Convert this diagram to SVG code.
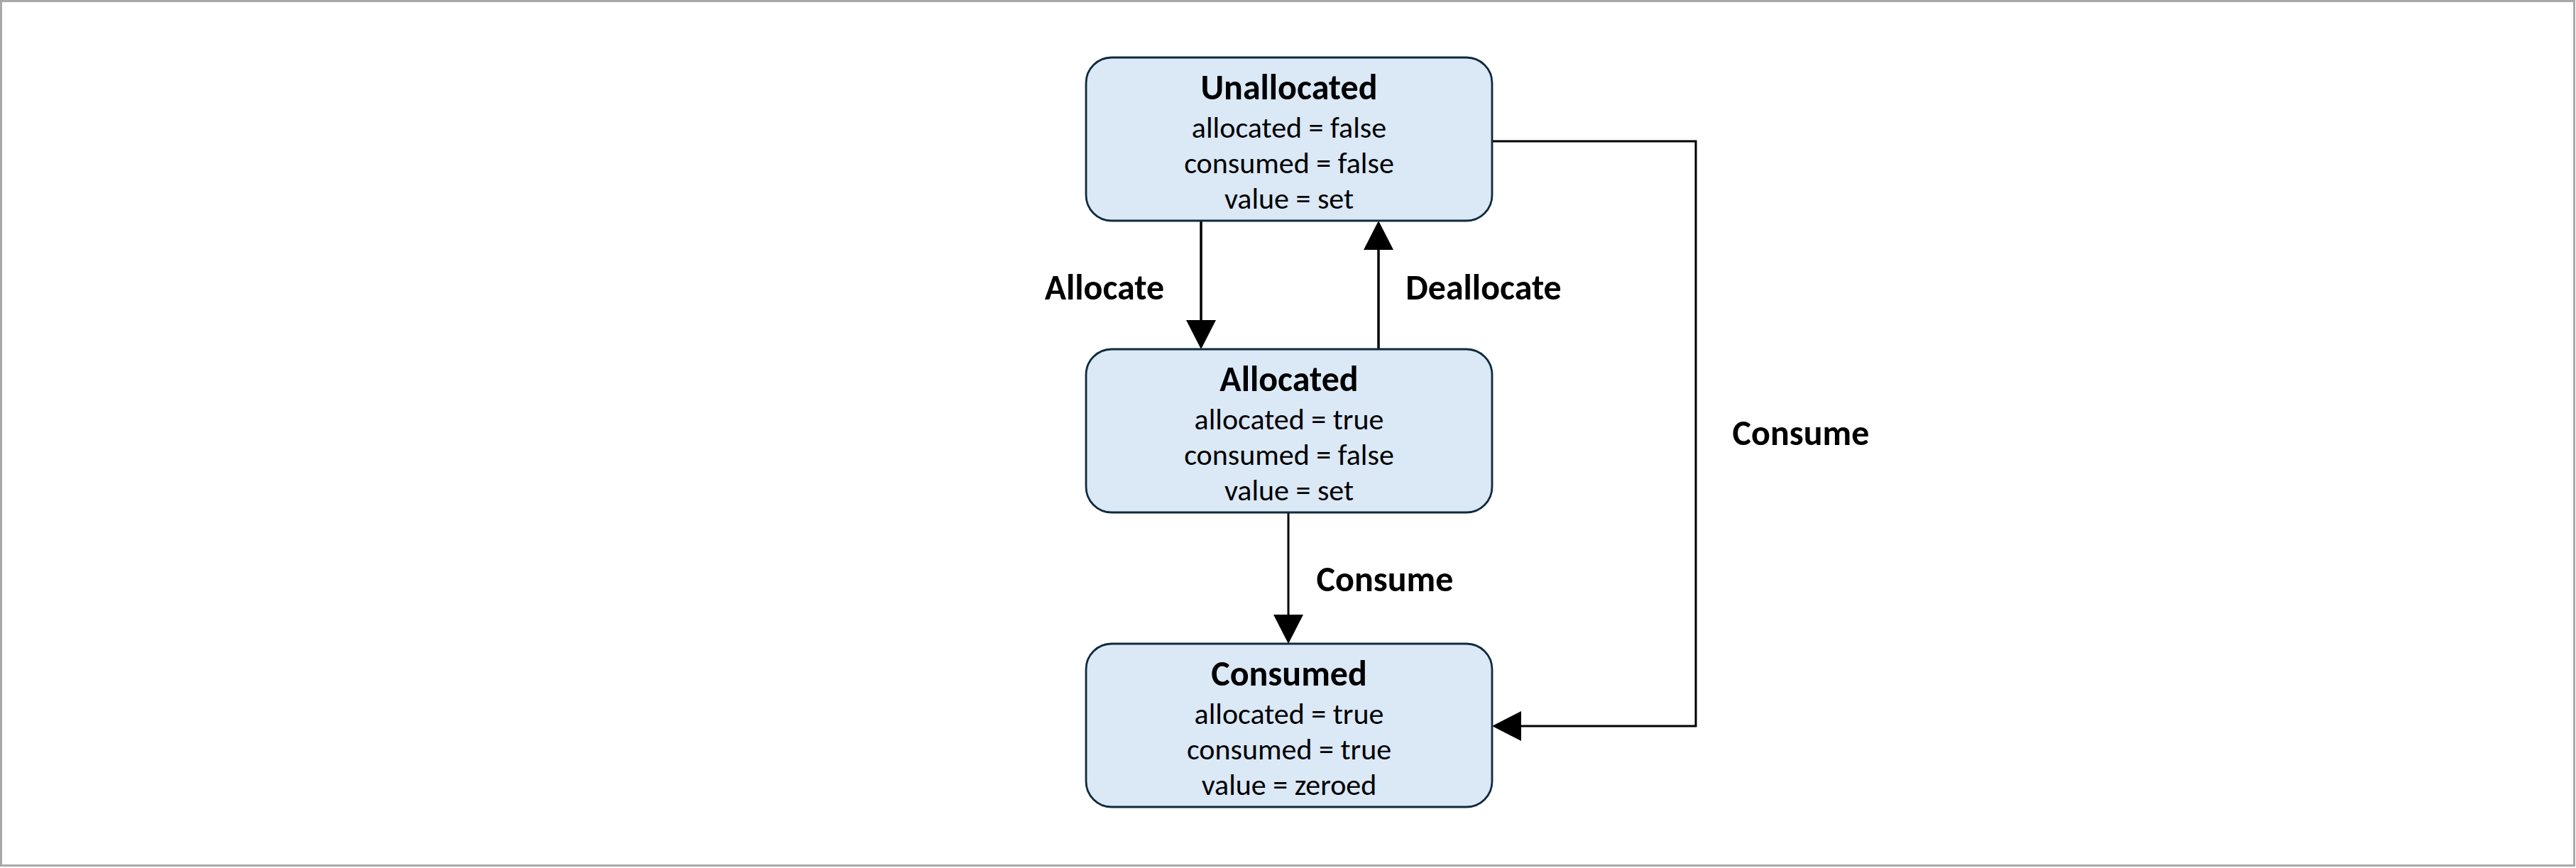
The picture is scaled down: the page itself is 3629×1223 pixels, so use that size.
<svg xmlns="http://www.w3.org/2000/svg" width="3629" height="1223" viewBox="0 0 3629 1223">
<defs>
<style>
.bg{fill:#ffffff;stroke:#a9a9a9;stroke-width:3}
.node{fill:#dbe8f6;stroke:#0f2b3d;stroke-width:2.8}
.title{font-family:Carlito,Calibri,Lato,"Liberation Sans",sans-serif;font-weight:bold;font-size:50px;fill:#000;text-anchor:middle}
.body{font-family:Carlito,Calibri,Lato,"Liberation Sans",sans-serif;font-size:42px;fill:#000;text-anchor:middle}
.lbl{font-family:Carlito,Calibri,Lato,"Liberation Sans",sans-serif;font-weight:bold;font-size:50px;fill:#000}
.edge{fill:none;stroke:#000;stroke-width:3.5}
.thin{stroke-width:3}
</style>
<marker id="ah" markerUnits="userSpaceOnUse" markerWidth="44" markerHeight="44" refX="0" refY="21" orient="auto" viewBox="0 0 44 44">
<path d="M0,0 L41,21 L0,42 Z" fill="#000"/>
</marker>
</defs>
<rect class="bg" x="1.5" y="1.5" width="3625" height="1218"/>
<g id="connectors">
<path id="e-allocate" class="edge" d="M1692,311 L1692,451" marker-end="url(#ah)"/>
<path id="e-deallocate" class="edge" d="M1942,492 L1942,352" marker-end="url(#ah)"/>
<path id="e-consume1" class="edge thin" d="M1815,722 L1815,866" marker-end="url(#ah)"/>
<path id="e-consume2" class="edge thin" d="M2102,199 L2389,199 L2389,1023 L2143,1023" marker-end="url(#ah)"/>
<text class="lbl" x="1556" y="422" text-anchor="middle">Allocate</text>
<text class="lbl" x="2090" y="422" text-anchor="middle">Deallocate</text>
<text class="lbl" x="1951" y="833" text-anchor="middle">Consume</text>
<text class="lbl" x="2537" y="627" text-anchor="middle">Consume</text>
</g>
<g id="unallocated">
<rect class="node" x="1530" y="81" width="572" height="230" rx="36" ry="36"/>
<text class="title" x="1816" y="140">Unallocated</text>
<text class="body" x="1816" y="194">allocated = false</text>
<text class="body" x="1816" y="244">consumed = false</text>
<text class="body" x="1816" y="294">value = set</text>
</g>
<g id="allocated">
<rect class="node" x="1530" y="492" width="572" height="230" rx="36" ry="36"/>
<text class="title" x="1816" y="551">Allocated</text>
<text class="body" x="1816" y="605">allocated = true</text>
<text class="body" x="1816" y="655">consumed = false</text>
<text class="body" x="1816" y="705">value = set</text>
</g>
<g id="consumed">
<rect class="node" x="1530" y="907" width="572" height="230" rx="36" ry="36"/>
<text class="title" x="1816" y="966">Consumed</text>
<text class="body" x="1816" y="1020">allocated = true</text>
<text class="body" x="1816" y="1070">consumed = true</text>
<text class="body" x="1816" y="1120">value = zeroed</text>
</g>
</svg>
